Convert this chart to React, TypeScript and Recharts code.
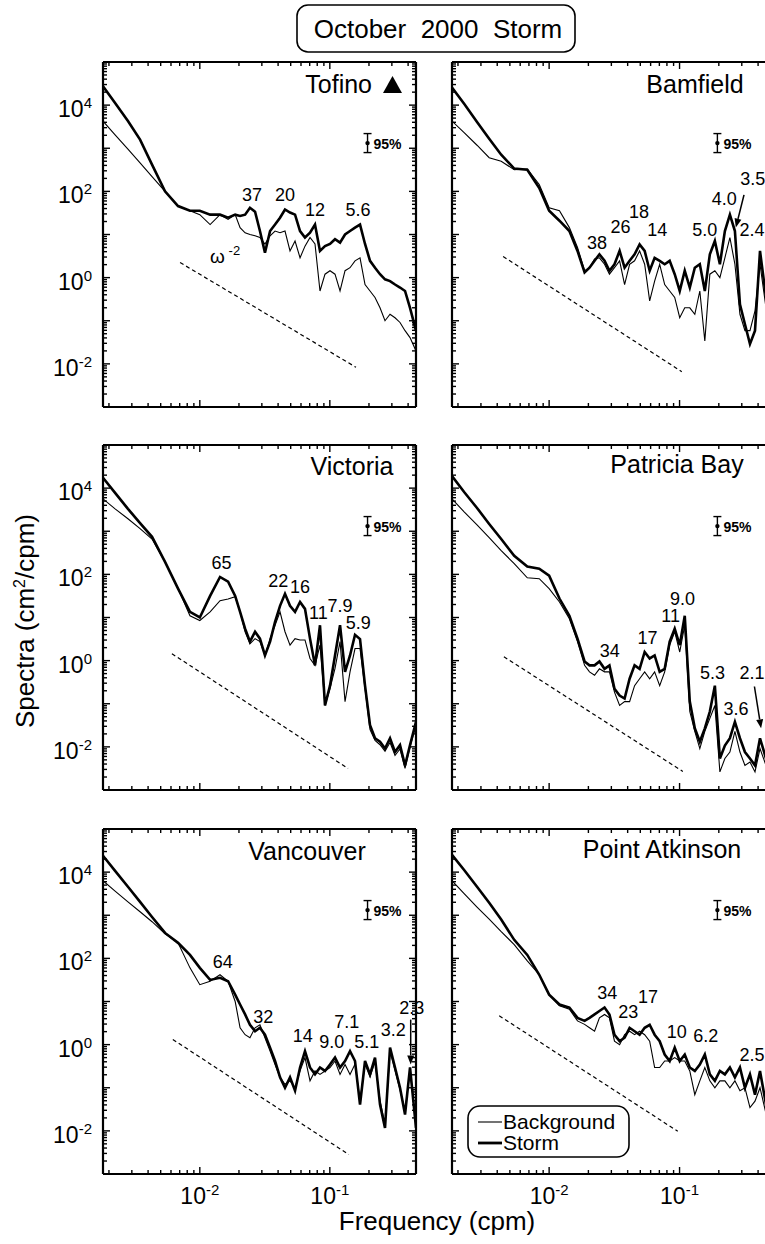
import React from "react";
import { LineChart, Line, XAxis, YAxis, ReferenceLine, ReferenceDot, Legend } from "recharts";

const FONT = "'Liberation Sans', Arial, Helvetica, sans-serif";

// frequency grid (cpm), shared by all six stations
const freq = [
  0.0018, 0.00223, 0.0028, 0.00347, 0.00429, 0.0054, 0.0068, 0.0084, 0.01, 0.012, 0.0143, 0.0165, 0.0187,
  0.0204, 0.0223, 0.0243, 0.0266, 0.029, 0.0317, 0.0347, 0.0379, 0.0414, 0.0452, 0.0494, 0.054, 0.059,
  0.0644, 0.0704, 0.0769, 0.084, 0.0918, 0.1003, 0.1096, 0.1198, 0.1309, 0.143, 0.1562, 0.1707, 0.1865,
  0.2038, 0.2226, 0.2432, 0.2657, 0.2904, 0.3172, 0.3466, 0.3788, 0.4138, 0.46,
];

// spectra as log10(cm^2/cpm)
const tofinoStorm = [
  4.44, 4.05, 3.63, 3.2, 2.62, 2.0, 1.66, 1.55, 1.55, 1.46, 1.46, 1.39, 1.46,
  1.43, 1.46, 1.62, 1.53, 1.08, 0.58, 1.08, 1.23, 1.39, 1.58, 1.51, 1.46, 1.08, 0.93, 1.04, 1.23, 0.62,
  0.73, 0.78, 0.89, 0.81, 1.0, 1.08, 1.16, 1.23, 0.78, 0.39, 0.23, 0.08, -0.04, -0.08, -0.16, -0.23, -0.31,
  -0.7, -1.23,
];
const tofinoBg = [
  3.63, 3.31, 2.98, 2.66, 2.34, 2.0, 1.66, 1.55, 1.46, 1.23, 1.46, 1.35, 1.46,
  1.16, 1.04, 1.0, 0.97, 0.93, 0.78, 0.97, 1.08, 1.04, 1.08, 0.62, 0.85, 0.46, 0.73, 0.93, 0.78, -0.31,
  0.08, 0.16, 0.08, -0.31, 0.16, 0.23, 0.39, 0.46, -0.16, -0.31, -0.46, -0.7, -1.0, -0.85, -0.93, -1.04,
  -1.23, -1.39, -1.7,
];
const bamfieldStorm = [
  4.41, 4.03, 3.61, 3.22, 2.85, 2.53, 2.5, 2.08, 1.55, 1.32, 1.08, 0.62, 0.12,
  0.23, 0.39, 0.54, 0.39, 0.16, 0.31, 0.62, 0.23, 0.39, 0.54, 0.77, 0.62, 0.16, 0.46, 0.39, 0.31, 0.39,
  0.08, -0.31, 0.16, -0.23, 0.23, 0.31, -0.31, 0.54, 0.85, 0.31, 1.08, 1.46, 1.08, -0.62, -1.08, -1.54,
  -1.23, 0.62, -0.46,
];
const bamfieldBg = [
  3.63, 3.36, 3.07, 2.78, 2.7, 2.5, 2.52, 2.16, 1.62, 1.55, 1.16, 0.7, 0.16,
  0.23, 0.43, 0.46, 0.31, 0.08, 0.23, 0.39, -0.16, 0.31, 0.39, 0.62, 0.31, -0.54, -0.08, 0.31, -0.16,
  -0.31, -0.46, -0.93, -0.7, -0.7, -0.85, -0.31, -1.47, 0.08, 0.16, 0.0, 0.46, 0.93, 0.31, -0.85, -1.23,
  -1.23, -0.77, 0.31, -0.7,
];
const victoriaStorm = [
  4.24, 3.89, 3.52, 3.19, 2.87, 2.29, 1.67, 1.13, 1.0, 1.5, 1.94, 1.83, 1.5,
  1.13, 0.74, 0.44, 0.67, 0.51, 0.12, 0.44, 0.9, 1.27, 1.55, 1.27, 1.13, 1.36, 1.2, 0.51, -0.11, 0.82,
  -1.04, -0.58, 0.12, 0.82, -0.26, 0.12, 0.6, 0.5, -0.58, -1.5, -1.8, -1.88, -2.04, -1.8, -2.12, -1.96,
  -2.43, -1.96, -1.42,
];
const victoriaBg = [
  3.75, 3.52, 3.29, 3.06, 2.82, 2.29, 1.67, 1.04, 0.93, 1.13, 1.39, 1.43, 1.48,
  1.13, 0.67, 0.39, 0.51, 0.44, 0.12, 0.51, 0.82, 1.13, 0.67, 0.36, 0.51, 0.48, 0.48, 0.05, -0.11, 0.36,
  -1.04, -0.65, -0.18, 0.44, -0.95, -0.26, 0.28, 0.28, -0.65, -1.6, -1.85, -1.95, -2.1, -1.9, -2.2, -2.05,
  -2.5, -2.0, -1.5,
];
const patriciaStorm = [
  4.28, 3.91, 3.54, 3.17, 2.82, 2.43, 2.18, 2.13, 1.97, 1.44, 1.04, 0.51, -0.02,
  -0.11, -0.11, -0.02, -0.19, -0.11, -0.65, -0.81, -0.88, -0.42, -0.11, -0.19, 0.2, 0.05, 0.12, -0.26,
  -0.19, 0.44, 0.74, 0.36, 1.04, -0.95, -1.57, -1.88, -1.57, -1.18, -0.58, -2.27, -1.97, -1.8, -1.42,
  -1.8, -2.12, -2.27, -2.43, -1.8, -2.27,
];
const patriciaBg = [
  3.75, 3.45, 3.15, 2.85, 2.55, 2.25, 1.92, 1.9, 1.67, 1.36, 0.97, 0.44, -0.11,
  -0.26, -0.34, -0.19, -0.26, -0.26, -0.73, -1.04, -0.95, -0.95, -0.58, -0.42, -0.26, -0.42, -0.26,
  -0.58, -0.26, 0.36, 0.67, 0.2, 0.82, -1.18, -1.64, -2.04, -1.64, -1.34, -1.04, -2.58, -2.27, -2.12,
  -1.64, -2.12, -2.43, -2.35, -2.58, -2.04, -2.43,
];
const vancouverStorm = [
  4.38, 4.03, 3.66, 3.31, 2.96, 2.59, 2.36, 2.08, 1.78, 1.5, 1.55, 1.47, 1.16,
  0.93, 0.7, 0.46, 0.31, 0.39, 0.23, -0.07, -0.38, -0.76, -1.0, -0.76, -1.07, -0.53, -0.15, -0.53, -0.69,
  -0.53, -0.61, -0.46, -0.3, -0.53, -0.38, -0.15, -0.38, -1.39, -0.38, -0.69, -0.3, -1.39, -1.93, -0.07,
  -0.53, -1.0, -1.62, -0.53, -1.93,
];
const vancouverBg = [
  3.8, 3.56, 3.31, 3.08, 2.85, 2.57, 2.36, 1.78, 1.39, 1.47, 1.62, 1.47, 1.0,
  0.39, 0.23, 0.16, 0.39, 0.46, 0.16, -0.15, -0.46, -0.76, -0.92, -0.84, -1.0, -0.61, -0.3, -0.84, -0.61,
  -0.69, -0.61, -0.53, -0.38, -0.69, -0.46, -0.69, -0.45, -1.3, -0.45, -0.75, -0.4, -1.3, -1.85, -0.15,
  -0.6, -1.05, -1.55, -0.6, -1.85,
];
const atkinsonStorm = [
  4.4, 4.05, 3.66, 3.29, 2.9, 2.43, 2.08, 1.62, 1.16, 0.93, 0.86, 0.62, 0.55,
  0.62, 0.7, 0.78, 0.86, 0.7, 0.23, 0.08, 0.16, 0.39, 0.31, 0.23, 0.39, 0.46, 0.23, 0.08, -0.23, -0.38,
  -0.07, -0.38, -0.23, -0.53, -0.61, -0.46, -0.23, -0.69, -0.84, -0.61, -0.69, -0.53, -0.76, -0.53, -1.0,
  -0.69, -1.16, -0.61, -1.39,
];
const atkinsonBg = [
  3.8, 3.5, 3.19, 2.91, 2.62, 2.32, 1.94, 1.62, 1.16, 0.9, 0.82, 0.55, 0.47,
  0.39, 0.31, 0.62, 0.7, 0.62, 0.08, 0.0, 0.23, 0.31, 0.23, 0.31, 0.23, 0.08, -0.53, -0.53, -0.38, -0.38,
  -0.3, -0.38, -0.38, -0.61, -1.16, -0.84, -0.53, -0.84, -1.0, -0.84, -0.84, -1.0, -0.84, -1.07, -1.0,
  -1.46, -1.31, -1.0, -1.6,
];

// period labels (minutes): [text, frequency, log10 spectrum of label baseline]
const tofinoNotes = [["37", 0.0252, 1.78], ["20", 0.0452, 1.78], ["12", 0.0769, 1.44], ["5.6", 0.1647, 1.44]];
const bamfieldNotes = [
  ["38", 0.0233, 0.67], ["26", 0.0353, 1.04], ["18", 0.0488, 1.39], ["14", 0.0676, 0.97],
  ["5.0", 0.156, 0.97], ["4.0", 0.22, 1.69], ["3.5", 0.3634, 2.15], ["2.4", 0.36, 0.97],
];
const victoriaNotes = [
  ["65", 0.0147, 2.13], ["22", 0.0402, 1.71], ["16", 0.059, 1.57], ["11", 0.0817, 0.97],
  ["7.9", 0.1197, 1.13], ["5.9", 0.1657, 0.74],
];
const patriciaNotes = [
  ["34", 0.0292, 0.09], ["17", 0.0567, 0.39], ["11", 0.0855, 0.9], ["9.0", 0.1052, 1.3],
  ["5.3", 0.179, -0.42], ["3.6", 0.2704, -1.27], ["2.1", 0.36, -0.42],
];
const vancouverNotes = [
  ["64", 0.015, 1.78], ["32", 0.0308, 0.51], ["14", 0.0618, 0.05], ["9.0", 0.1034, -0.07],
  ["7.1", 0.135, 0.39], ["5.1", 0.1923, -0.07], ["3.2", 0.3077, 0.21], ["2.3", 0.4266, 0.72],
];
const atkinsonNotes = [
  ["34", 0.0279, 1.06], ["23", 0.0404, 0.62], ["17", 0.0573, 0.97], ["10", 0.0951, 0.16],
  ["6.2", 0.159, 0.05], ["2.5", 0.36, -0.37],
];

// omega^-2 reference lines: [f1, log S1, f2, log S2]
const tofinoSlope = [0.00705, 0.35, 0.159, -2.08];
const bamfieldSlope = [0.00444, 0.49, 0.104, -2.18];
const victoriaSlope = [0.0061, 0.16, 0.138, -2.5];
const patriciaSlope = [0.0045, 0.09, 0.106, -2.57];
const vancouverSlope = [0.0062, 0.12, 0.14, -2.55];
const atkinsonSlope = [0.00414, 0.67, 0.0969, -2.01];

// label arrows: [f1, log S1, f2, log S2]
const bamfieldArrow = [0.312, 1.92, 0.27, 1.16];
const patriciaArrow = [0.375, -0.6, 0.4218, -1.57];
const vancouverArrow = [0.4188, 0.58, 0.4188, -0.46];

const conf95 = [0.195, 3.12];

const xDecades = [-3, -2, -1];
const yDecades = [-3, -2, -1, 0, 1, 2, 3, 4];
const subSteps = [1, 2, 3, 4, 5, 6, 7, 8, 9];
const xLabelled = [-2, -1];
const yLabelled = [-2, 0, 2, 4];

const X_DOMAIN = [0.0018, 0.46];
const Y_DOMAIN = [1e-3, 1e5];
const xTicks = xDecades
  .flatMap((d) => subSteps.map((s) => s * 10 ** d))
  .filter((v) => v >= X_DOMAIN[0] && v <= X_DOMAIN[1]);
const yTicks = [...yDecades.flatMap((d) => subSteps.map((s) => s * 10 ** d)), 1e5];

const panels = [
  { name: "Tofino", row: 0, col: 0, storm: tofinoStorm, bg: tofinoBg, notes: tofinoNotes, slope: tofinoSlope, tx: 372, ty: 93, anchor: "end", omega: true },
  { name: "Bamfield", row: 0, col: 1, storm: bamfieldStorm, bg: bamfieldBg, notes: bamfieldNotes, slope: bamfieldSlope, arrow: bamfieldArrow, tx: 695, ty: 93 },
  { name: "Victoria", row: 1, col: 0, storm: victoriaStorm, bg: victoriaBg, notes: victoriaNotes, slope: victoriaSlope, tx: 352, ty: 475 },
  { name: "Patricia Bay", row: 1, col: 1, storm: patriciaStorm, bg: patriciaBg, notes: patriciaNotes, slope: patriciaSlope, arrow: patriciaArrow, tx: 677, ty: 473 },
  { name: "Vancouver", row: 2, col: 0, storm: vancouverStorm, bg: vancouverBg, notes: vancouverNotes, slope: vancouverSlope, arrow: vancouverArrow, tx: 307, ty: 860 },
  { name: "Point Atkinson", row: 2, col: 1, storm: atkinsonStorm, bg: atkinsonBg, notes: atkinsonNotes, slope: atkinsonSlope, tx: 662, ty: 858, legend: true },
];

const ROW_TOPS = [62, 445, 829];
// axes are 1px thick, so the plot area sits at left 103 / top 40
const M = { top: 39, right: 19, bottom: 39, left: 102 };
const CW = 436;
const CH = 425;
const AXIS = { stroke: "#000", strokeWidth: 2.2 };

function AxisTick(props: any) {
  const { x, y, payload, side, labels } = props;
  const v = Number(payload.value);
  const lg = Math.log10(v);
  const exp = Math.round(lg);
  const major = Math.abs(lg - exp) < 1e-6;
  const len = major ? 7 : 4;
  let x2 = x;
  let y2 = y;
  if (side === "bottom") y2 = y - len;
  if (side === "top") y2 = y + len;
  if (side === "left") x2 = x + len;
  if (side === "right") x2 = x - len;
  const show = major && labels && labels.includes(exp);
  return (
    <g>
      <line x1={x} y1={y} x2={x2} y2={y2} stroke="#000" strokeWidth={1.4} />
      {show && side === "bottom" && (
        <text x={x} y={y + 30} textAnchor="middle" fontSize={23} fontFamily={FONT} fill="#000">
          10<tspan dy={-9} fontSize={15}>{exp}</tspan>
        </text>
      )}
      {show && side === "left" && (
        <text x={x - 11} y={y + 12} textAnchor="end" fontSize={23} fontFamily={FONT} fill="#000">
          10<tspan dy={-9} fontSize={15}>{exp}</tspan>
        </text>
      )}
    </g>
  );
}

function ArrowShape(props: any) {
  const { x1, y1, x2, y2 } = props;
  const a = Math.atan2(y2 - y1, x2 - x1);
  const L = 9;
  const W = 3.5;
  const bx = x2 - L * Math.cos(a);
  const by = y2 - L * Math.sin(a);
  const px = -Math.sin(a) * W;
  const py = Math.cos(a) * W;
  return (
    <g>
      <line x1={x1} y1={y1} x2={bx} y2={by} stroke="#000" strokeWidth={1.5} />
      <polygon points={`${x2},${y2} ${bx + px},${by + py} ${bx - px},${by - py}`} fill="#000" />
    </g>
  );
}

function LegendBox() {
  return (
    <svg width={164} height={54} style={{ display: "block" }}>
      <rect x={1} y={1} width={161} height={51} rx={12} fill="#fff" stroke="#000" strokeWidth={1.6} />
      <line x1={11} x2={35} y1={17} y2={17} stroke="#000" strokeWidth={1.1} />
      <text x={36} y={24} fontSize={21} fontFamily={FONT} fill="#000">Background</text>
      <line x1={11} x2={35} y1={38} y2={38} stroke="#000" strokeWidth={2.8} />
      <text x={36} y={45} fontSize={21} fontFamily={FONT} fill="#000">Storm</text>
    </svg>
  );
}

function Panel({ p }: { p: any }) {
  const data = freq.map((f, i) => ({ f, bg: 10 ** p.bg[i], storm: 10 ** p.storm[i] }));
  const [s1, sv1, s2, sv2] = p.slope;
  const xLab = p.row === 2 ? xLabelled : [];
  const yLab = p.col === 0 ? yLabelled : [];
  return (
    <div style={{ position: "absolute", left: p.col === 0 ? 0 : 349, top: ROW_TOPS[p.row] - 40 }}>
      <LineChart width={CW} height={CH} data={data} margin={M}>
        <XAxis xAxisId="b" orientation="bottom" dataKey="f" type="number" scale="log" domain={X_DOMAIN}
          allowDataOverflow ticks={xTicks} interval={0} height={1} tickSize={0} tickMargin={0}
          tickLine={false} axisLine={AXIS} tick={(t: any) => <AxisTick {...t} side="bottom" labels={xLab} />} />
        <XAxis xAxisId="t" orientation="top" dataKey="f" type="number" scale="log" domain={X_DOMAIN}
          allowDataOverflow ticks={xTicks} interval={0} height={1} tickSize={0} tickMargin={0}
          tickLine={false} axisLine={AXIS} tick={(t: any) => <AxisTick {...t} side="top" />} />
        <YAxis yAxisId="l" orientation="left" type="number" scale="log" domain={Y_DOMAIN}
          allowDataOverflow ticks={yTicks} interval={0} width={1} tickSize={0} tickMargin={0}
          tickLine={false} axisLine={AXIS} tick={(t: any) => <AxisTick {...t} side="left" labels={yLab} />} />
        {p.col === 0 && (
          <YAxis yAxisId="r" orientation="right" type="number" scale="log" domain={Y_DOMAIN}
            allowDataOverflow ticks={yTicks} interval={0} width={1} tickSize={0} tickMargin={0}
            tickLine={false} axisLine={AXIS} tick={(t: any) => <AxisTick {...t} side="right" />} />
        )}
        <Line xAxisId="b" yAxisId="l" type="linear" dataKey="bg" stroke="#000" strokeWidth={1.1}
          dot={false} activeDot={false} isAnimationActive={false} />
        <Line xAxisId="b" yAxisId="l" type="linear" dataKey="storm" stroke="#000" strokeWidth={2.6}
          dot={false} activeDot={false} isAnimationActive={false} />
        <ReferenceLine xAxisId="b" yAxisId="l" ifOverflow="visible"
          segment={[{ x: s1, y: 10 ** sv1 }, { x: s2, y: 10 ** sv2 }]}
          stroke="#000" strokeWidth={1.2} strokeDasharray="4 3" />
        {p.arrow && (
          <ReferenceLine xAxisId="b" yAxisId="l" ifOverflow="visible"
            segment={[{ x: p.arrow[0], y: 10 ** p.arrow[1] }, { x: p.arrow[2], y: 10 ** p.arrow[3] }]}
            shape={(s: any) => <ArrowShape {...s} />} />
        )}
        {p.notes.map((n: any, i: number) => (
          <ReferenceDot key={i} xAxisId="b" yAxisId="l" x={n[1]} y={10 ** n[2]} r={0} ifOverflow="visible"
            shape={(s: any) => (
              <text x={s.cx} y={s.cy} textAnchor="middle" fontSize={18} fontFamily={FONT} fill="#000">{n[0]}</text>
            )} />
        ))}
        {p.omega && (
          <ReferenceDot xAxisId="b" yAxisId="l" x={0.012} y={10 ** 0.35} r={0} ifOverflow="visible"
            shape={(s: any) => (
              <text x={s.cx} y={s.cy} fontSize={19} fontFamily={FONT} fill="#000">
                ω<tspan dy={-8} fontSize={13}> -2</tspan>
              </text>
            )} />
        )}
        <ReferenceDot xAxisId="b" yAxisId="l" x={conf95[0]} y={10 ** conf95[1]} r={0} ifOverflow="visible"
          shape={(s: any) => (
            <g>
              <line x1={s.cx} y1={s.cy - 9.5} x2={s.cx} y2={s.cy + 9.5} stroke="#000" strokeWidth={1.4} />
              <line x1={s.cx - 4} y1={s.cy - 9.5} x2={s.cx + 4} y2={s.cy - 9.5} stroke="#000" strokeWidth={1.4} />
              <line x1={s.cx - 4} y1={s.cy + 9.5} x2={s.cx + 4} y2={s.cy + 9.5} stroke="#000" strokeWidth={1.4} />
              <circle cx={s.cx} cy={s.cy} r={2.2} fill="#000" />
              <text x={s.cx + 6} y={s.cy + 6} fontSize={14} fontWeight="bold" fontFamily={FONT} fill="#000">95%</text>
            </g>
          )} />
        {p.legend && (
          <Legend verticalAlign="middle" align="center" layout="horizontal"
            wrapperStyle={{ left: 118, top: 316, width: 164, height: 54 }}
            content={() => <LegendBox />} />
        )}
      </LineChart>
    </div>
  );
}

export default function App() {
  return (
    <div style={{ position: "absolute", left: 0, top: 0, width: 765, height: 1244, overflow: "hidden", background: "#fff", fontFamily: FONT }}>
      {panels.map((p) => (
        <Panel key={p.name} p={p} />
      ))}
      <svg width={765} height={1244} style={{ position: "absolute", left: 0, top: 0, pointerEvents: "none" }}>
        <rect x={297} y={5} width={278} height={47} rx={11} fill="#fff" stroke="#000" strokeWidth={1.6} />
        <text x={438} y={38} textAnchor="middle" fontSize={26} fontFamily={FONT} fill="#000" style={{ whiteSpace: "pre" }}>
          October  2000  Storm
        </text>
        {panels.map((p) => (
          <text key={p.name} x={p.tx} y={p.ty} textAnchor={p.anchor || "middle"} fontSize={25} fontFamily={FONT} fill="#000">
            {p.name}
          </text>
        ))}
        <polygon points="383,93 402,93 392.5,76" fill="#000" />
        <text transform="translate(34,621) rotate(-90)" textAnchor="middle" fontSize={26} fontFamily={FONT} fill="#000">
          Spectra (cm<tspan dy={-9} fontSize={16}>2</tspan><tspan dy={9}>/cpm)</tspan>
        </text>
        <text x={437} y={1230} textAnchor="middle" fontSize={26} fontFamily={FONT} fill="#000">
          Frequency (cpm)
        </text>
      </svg>
    </div>
  );
}
